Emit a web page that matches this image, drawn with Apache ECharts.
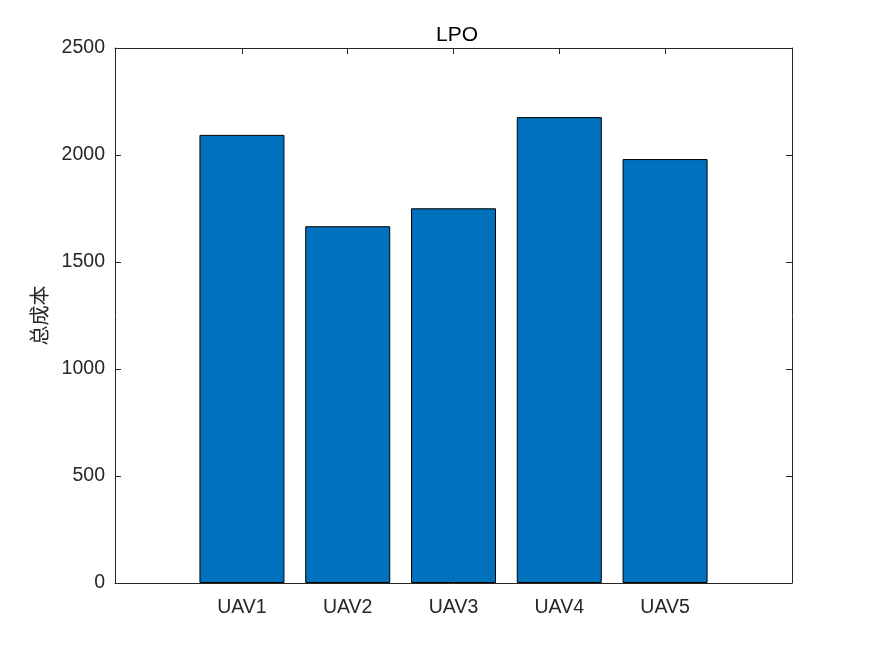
<!DOCTYPE html>
<html>
<head>
<meta charset="utf-8">
<script src="https://cdn.jsdelivr.net/npm/echarts@6/dist/echarts.min.js"></script>
<style>
html,body{margin:0;padding:0;background:#fff;}
#chart{width:875px;height:656px;}
</style>
</head>
<body>
<div id="chart"></div>
<script>
var categories = ['UAV1', 'UAV2', 'UAV3', 'UAV4', 'UAV5'];
var positions = [1, 2, 3, 4, 5];
var totalCost = [2094, 1667, 1751, 2177, 1981];
var yTicks = [0, 500, 1000, 1500, 2000, 2500];
var titleText = 'LPO';
var yName = '总成本';

var axisColor = '#262626';
var fontFam = 'Liberation Sans, Arial, sans-serif';

var chart = echarts.init(document.getElementById('chart'));
var xCommon = {
  type: 'value', min: -0.2, max: 6.2,
  splitLine: {show: false},
  axisLine: {show: true, onZero: false, lineStyle: {color: axisColor, width: 1}},
  axisTick: {show: true, inside: true, length: 6, customValues: positions, lineStyle: {color: axisColor}}
};
var yCommon = {
  type: 'value', min: 0, max: 2500, interval: 500,
  splitLine: {show: false},
  axisLine: {show: true, onZero: false, lineStyle: {color: axisColor, width: 1}},
  axisTick: {show: true, inside: true, length: 6, lineStyle: {color: axisColor}}
};
chart.setOption({
  animation: false,
  backgroundColor: '#fff',
  title: {
    text: titleText, left: 452, top: 20, textAlign: 'center',
    textStyle: {fontFamily: fontFam, fontSize: 21, fontWeight: 'normal', color: '#000'}
  },
  grid: {left: 115, top: 48, right: 83, bottom: 73, containLabel: false},
  xAxis: [
    Object.assign({}, xCommon, {
      position: 'bottom',
      axisLabel: {show: true, customValues: positions, margin: 15,
        fontFamily: fontFam, fontSize: 19.5, color: axisColor,
        formatter: function (v) { var i = positions.indexOf(Math.round(v)); return i >= 0 ? categories[i] : ''; }}
    }),
    Object.assign({}, xCommon, {position: 'top', axisLabel: {show: false}})
  ],
  yAxis: [
    Object.assign({}, yCommon, {
      position: 'left',
      name: yName, nameLocation: 'middle', nameGap: 66, nameRotate: 90,
      nameTextStyle: {fontFamily: 'Noto Sans CJK SC', fontSize: 20, color: axisColor},
      axisLabel: {show: true, margin: 10, fontFamily: fontFam, fontSize: 19.5, color: axisColor,
        padding: [4, 0, 0, 0],
        customValues: yTicks, formatter: function (v) { return String(v); }}
    }),
    Object.assign({}, yCommon, {position: 'right', axisLabel: {show: false}})
  ],
  series: [{
    type: 'bar',
    xAxisIndex: 0, yAxisIndex: 0,
    barWidth: 85,
    data: positions.map(function (p, i) { return [p, totalCost[i]]; }),
    itemStyle: {color: '#0072BD', borderColor: '#000', borderWidth: 1}
  }]
});
</script>
</body>
</html>
